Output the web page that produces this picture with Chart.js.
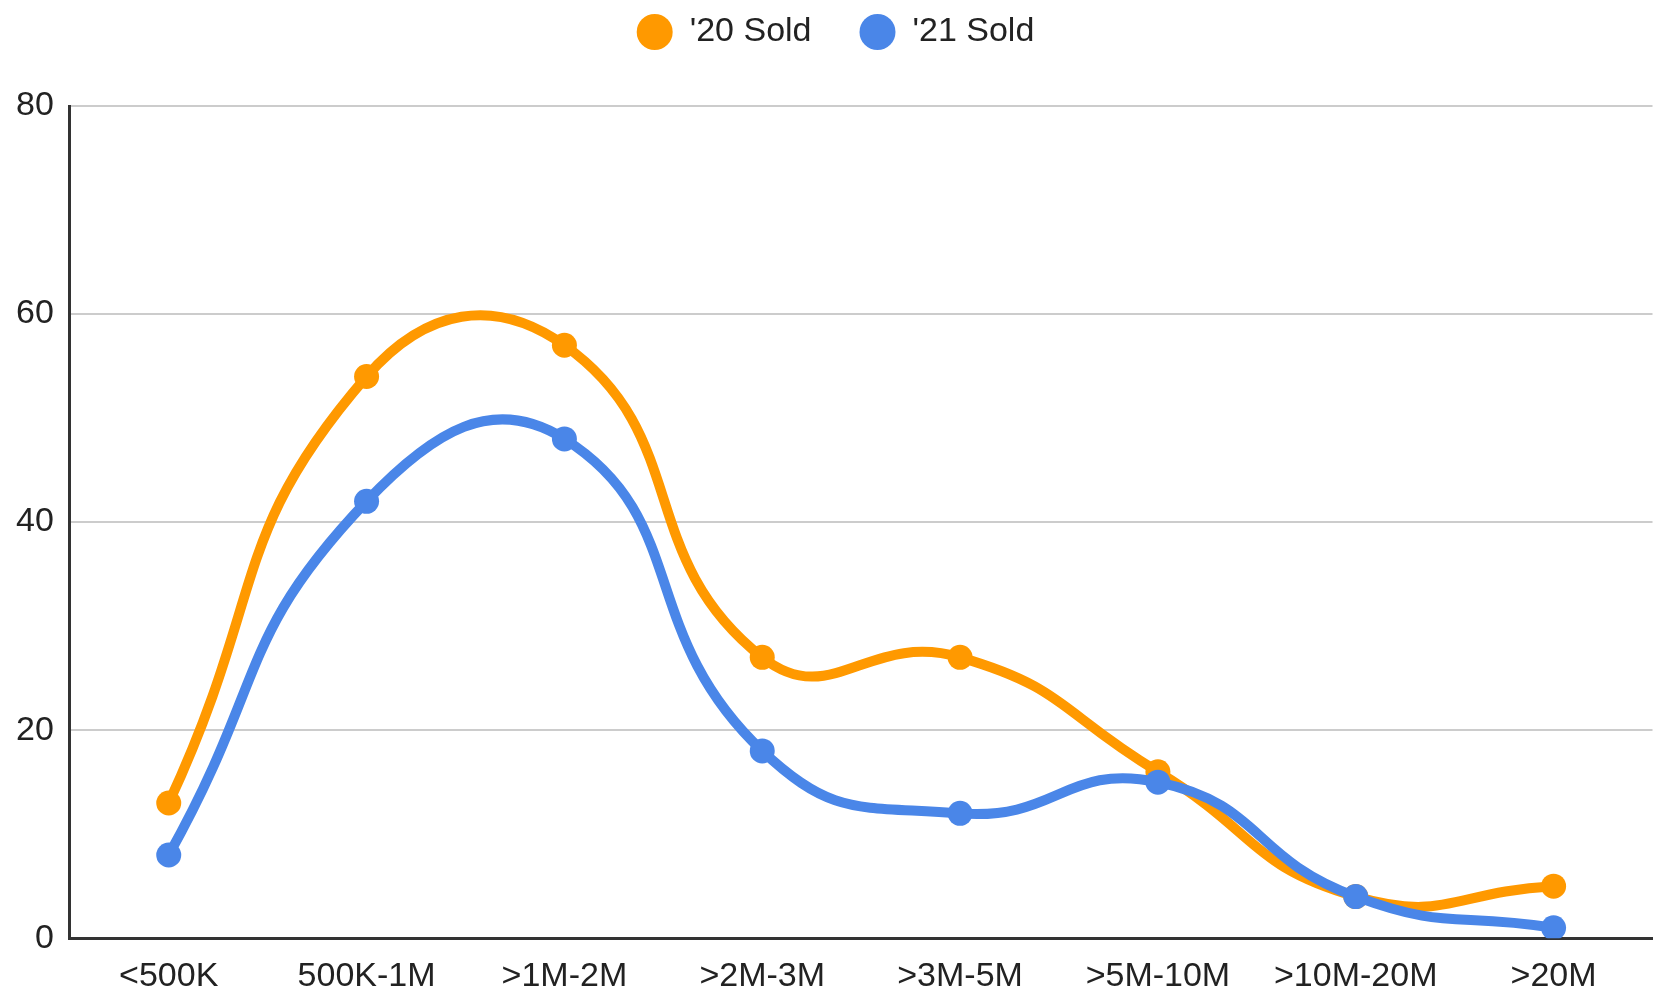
<!DOCTYPE html>
<html>
<head>
<meta charset="utf-8">
<script src="https://cdn.jsdelivr.net/npm/chart.js@4"></script>
<style>
  html, body { margin: 0; padding: 0; background: #fff; }
  #wrap { width: 1665px; height: 993px; }
</style>
</head>
<body>
<div id="wrap"><canvas id="soldChart"></canvas></div>
<script>
var categories = ["<500K", "500K-1M", ">1M-2M", ">2M-3M", ">3M-5M", ">5M-10M", ">10M-20M", ">20M"];
var sold2020 = [13, 54, 57, 27, 27, 16, 4, 5];
var sold2021 = [8, 42, 48, 18, 12, 15, 4, 1];
var yTicks = [0, 20, 40, 60, 80];

// extra room between the legend and the plot
var legendGap = {
  id: "legendGap",
  beforeInit: function (chart) {
    var fit = chart.legend.fit;
    chart.legend.fit = function () {
      fit.bind(chart.legend)();
      this.height += 47;
    };
  },
};

var ctx = document.getElementById("soldChart").getContext("2d");
var soldChart = new Chart(ctx, {
  type: "line",
  plugins: [legendGap],
  data: {
    labels: categories,
    datasets: [
      {
        label: "'20 Sold",
        data: sold2020,
        borderColor: "#ff9900",
        backgroundColor: "#ff9900",
        borderWidth: 10,
        pointRadius: 12.5,
        pointBorderWidth: 0,
        tension: 0.5,
        fill: false,
        order: 2,
      },
      {
        label: "'21 Sold",
        data: sold2021,
        borderColor: "#4a86e8",
        backgroundColor: "#4a86e8",
        borderWidth: 10,
        pointRadius: 12.5,
        pointBorderWidth: 0,
        tension: 0.5,
        fill: false,
        order: 1,
      },
    ],
  },
  options: {
    responsive: true,
    maintainAspectRatio: false,
    animation: false,
    layout: { padding: { top: -33, right: -6, bottom: -22, left: 0 } },
    plugins: {
      legend: {
        position: "top",
        labels: {
          usePointStyle: true,
          pointStyle: "circle",
          pointStyleWidth: 36,
          boxHeight: 25.5,
          padding: 48,
          color: "#222",
          font: { family: "'Liberation Sans', Arial, sans-serif", size: 34 },
          sort: function (a, b) { return a.datasetIndex - b.datasetIndex; },
        },
      },
      tooltip: { enabled: false },
    },
    scales: {
      x: {
        offset: true,
        grid: { display: false, drawTicks: false },
        border: { display: true, color: "#333", width: 3 },
        ticks: {
          padding: 18,
          maxRotation: 0,
          autoSkip: false,
          color: "#222",
          font: { family: "'Liberation Sans', Arial, sans-serif", size: 34 },
        },
      },
      y: {
        min: 0,
        max: 80,
        afterBuildTicks: function (axis) {
          axis.ticks = yTicks.map(function (v) { return { value: v }; });
        },
        grid: { color: "#cccccc", lineWidth: 2, drawTicks: false },
        border: { display: true, color: "#333", width: 3 },
        ticks: {
          padding: 16,
          color: "#222",
          font: { family: "'Liberation Sans', Arial, sans-serif", size: 34 },
        },
      },
    },
  },
});
</script>
</body>
</html>
